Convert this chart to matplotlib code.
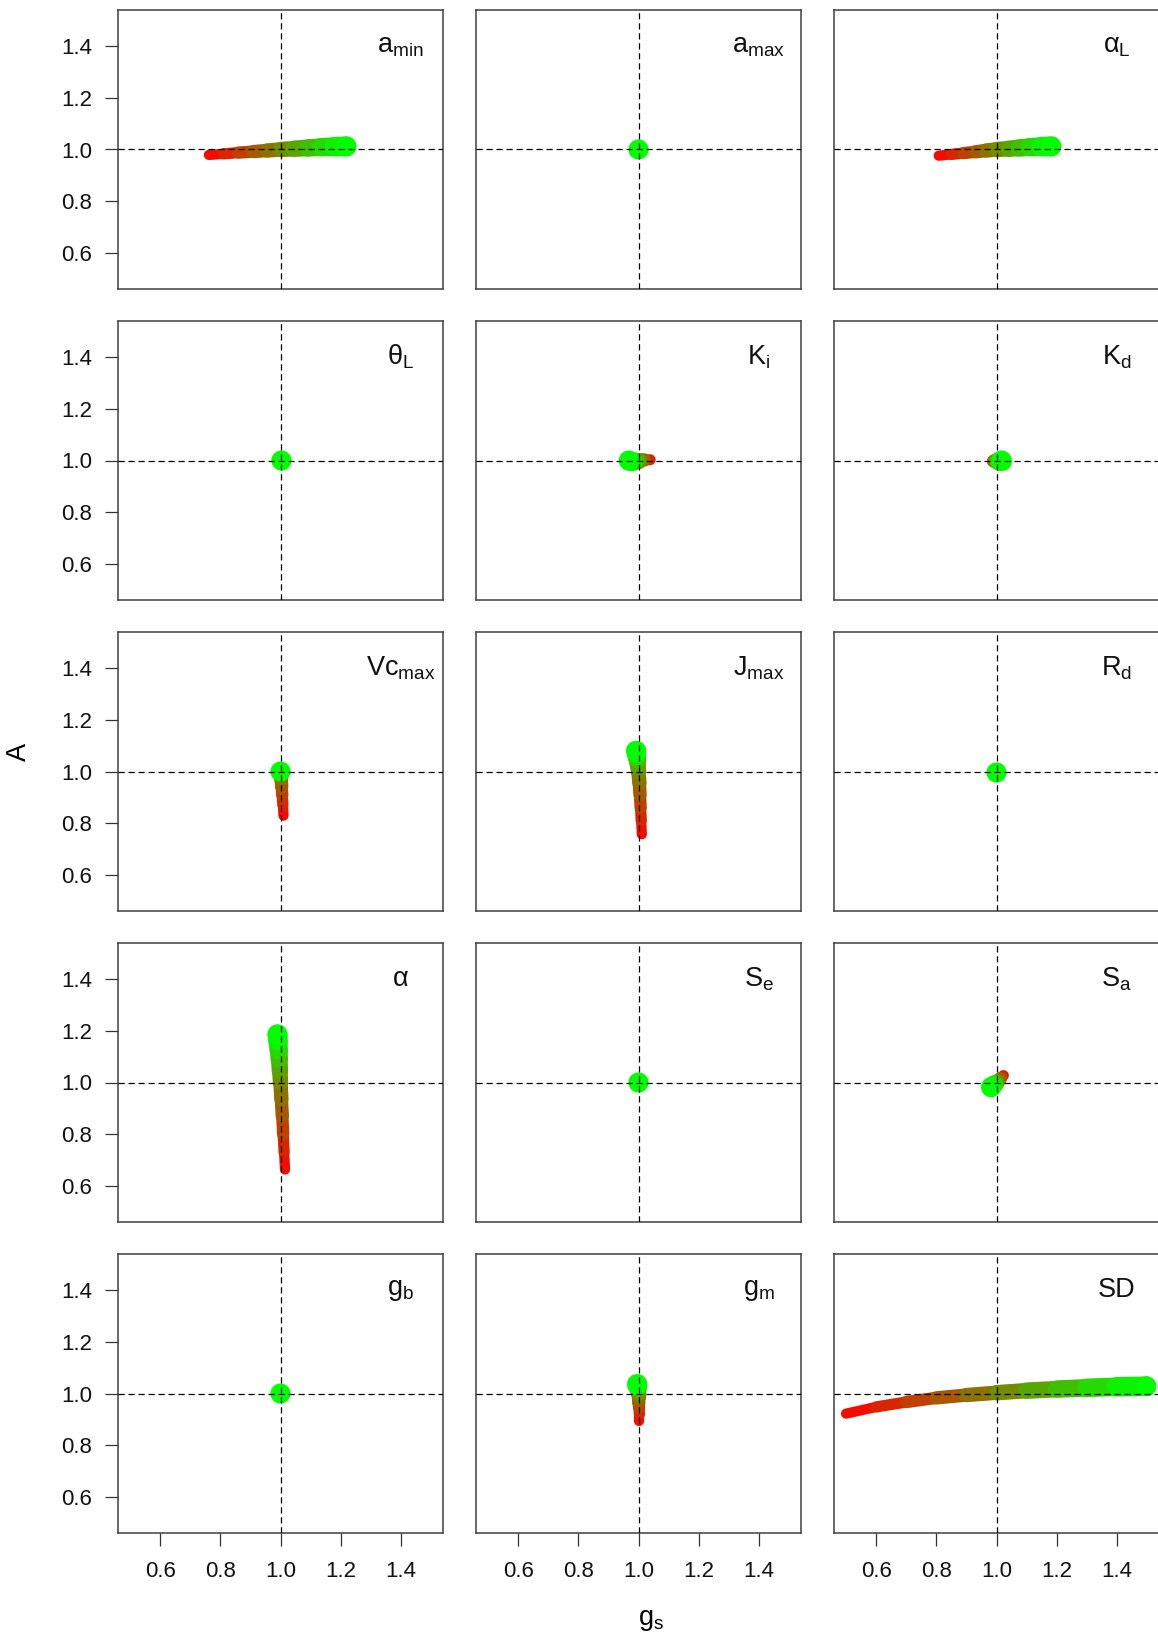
import numpy as np
import matplotlib
matplotlib.use('Agg')
import matplotlib.pyplot as plt
from matplotlib.collections import LineCollection

plt.rcParams['font.family'] = ['Liberation Sans', 'DejaVu Sans']
plt.rcParams['mathtext.fontset'] = 'custom'
plt.rcParams['mathtext.rm'] = 'Liberation Sans'
plt.rcParams['mathtext.it'] = 'Liberation Sans:italic'

# parameter multipliers (red = 0.5, green = 1.5)
steps11 = [0.5, 0.6, 0.7, 0.8, 0.9, 1.0, 1.1, 1.2, 1.3, 1.4, 1.5]
steps5 = [0.5, 0.75, 1.0, 1.25, 1.5]
steps2 = [0.5, 1.5]

# values (gs, A)
gs_amin = [0.762, 0.81, 0.86, 0.91, 0.955, 1.0, 1.045, 1.09, 1.135, 1.18, 1.219]
A_amin = [0.979, 0.983, 0.988, 0.992, 0.996, 1.0, 1.003, 1.006, 1.009, 1.011, 1.012]

gs_amax = [1.0, 1.0]
A_amax = [1.0, 1.0]

gs_alphaL = [0.808, 0.85, 0.89, 0.93, 0.965, 1.0, 1.04, 1.075, 1.11, 1.148, 1.182]
A_alphaL = [0.976, 0.981, 0.986, 0.991, 0.996, 1.0, 1.003, 1.006, 1.009, 1.011, 1.012]

gs_thetaL = [1.003, 1.003]
A_thetaL = [1.0, 1.0]

gs_Ki = [1.039, 1.018, 1.0, 0.983, 0.968]
A_Ki = [1.003, 1.002, 1.0, 1.0, 1.0]

gs_Kd = [0.985, 0.993, 1.0, 1.009, 1.017]
A_Kd = [1.0, 1.0, 1.0, 1.0, 1.0]

gs_Vcmax = [1.010, 1.008, 1.006, 1.004, 1.002, 1.0, 1.0, 1.0, 1.0, 1.0, 1.0]
A_Vcmax = [0.829, 0.870, 0.908, 0.942, 0.973, 1.0, 1.0, 1.0, 1.0, 1.0, 1.0]

gs_Jmax = [1.011, 1.009, 1.007, 1.005, 1.003, 1.0, 0.998, 0.996, 0.994, 0.993, 0.992]
A_Jmax = [0.757, 0.81, 0.86, 0.91, 0.955, 1.0, 1.025, 1.045, 1.06, 1.072, 1.08]

gs_Rd = [1.0, 1.0]
A_Rd = [0.996, 0.996]

gs_alpha = [1.015, 1.012, 1.009, 1.006, 1.003, 1.0, 0.998, 0.996, 0.994, 0.992, 0.99]
A_alpha = [0.663, 0.73, 0.80, 0.87, 0.935, 1.0, 1.045, 1.09, 1.125, 1.16, 1.186]

gs_Se = [1.0, 1.0]
A_Se = [1.0, 1.0]

gs_Sa = [1.023, 1.012, 1.0, 0.991, 0.982]
A_Sa = [1.027, 1.014, 1.0, 0.991, 0.982]

gs_gb = [1.0, 1.0]
A_gb = [1.0, 1.0]

gs_gm = [1.003, 1.003, 1.002, 1.001, 1.0, 1.0, 0.999, 0.998, 0.997, 0.996, 0.996]
A_gm = [0.894, 0.92, 0.945, 0.965, 0.985, 1.0, 1.012, 1.021, 1.028, 1.033, 1.036]

gs_SD = [0.50, 0.60, 0.70, 0.80, 0.90, 1.00, 1.10, 1.20, 1.30, 1.40, 1.498]
A_SD = [0.922, 0.948, 0.967, 0.983, 0.994, 1.003, 1.011, 1.017, 1.022, 1.026, 1.028]

labels = [r'$\mathrm{a}_{\mathrm{min}}$', r'$\mathrm{a}_{\mathrm{max}}$', r'$\mathrm{α}_{\mathrm{L}}$',
          r'$\mathrm{θ}_{\mathrm{L}}$', r'$\mathrm{K}_{\mathrm{i}}$', r'$\mathrm{K}_{\mathrm{d}}$',
          r'$\mathrm{Vc}_{\mathrm{max}}$', r'$\mathrm{J}_{\mathrm{max}}$', r'$\mathrm{R}_{\mathrm{d}}$',
          r'$\mathrm{α}$', r'$\mathrm{S}_{\mathrm{e}}$', r'$\mathrm{S}_{\mathrm{a}}$',
          r'$\mathrm{g}_{\mathrm{b}}$', r'$\mathrm{g}_{\mathrm{m}}$', 'SD']

panels = [
    (steps11, gs_amin, A_amin), (steps2, gs_amax, A_amax), (steps11, gs_alphaL, A_alphaL),
    (steps2, gs_thetaL, A_thetaL), (steps5, gs_Ki, A_Ki), (steps5, gs_Kd, A_Kd),
    (steps11, gs_Vcmax, A_Vcmax), (steps11, gs_Jmax, A_Jmax), (steps2, gs_Rd, A_Rd),
    (steps11, gs_alpha, A_alpha), (steps2, gs_Se, A_Se), (steps5, gs_Sa, A_Sa),
    (steps2, gs_gb, A_gb), (steps11, gs_gm, A_gm), (steps11, gs_SD, A_SD),
]

ticks = [0.6, 0.8, 1.0, 1.2, 1.4]

W, H = 1158, 1639
fig = plt.figure(figsize=(W / 100, H / 100), dpi=100)

for i, (par, gs, A) in enumerate(panels):
    r, c = divmod(i, 3)
    left = (118 + 358 * c) / W
    bottom = 1 - (10 + 311 * r + 279) / H
    ax = fig.add_axes([left, bottom, 325 / W, 279 / H])
    ax.set_xlim(0.46, 1.54)
    ax.set_ylim(0.46, 1.54)

    # gradient stroke red -> green, growing with the parameter
    t = (np.array(par) - 0.5) / 1.0
    pts = np.column_stack([gs, A])
    segs = np.stack([pts[:-1], pts[1:]], axis=1)
    tm = (t[:-1] + t[1:]) / 2
    cols = [(1 - v, v, 0) for v in tm]
    lc = LineCollection(segs, colors=cols, linewidths=7 + 7.5 * tm,
                        capstyle='round', joinstyle='round', zorder=2)
    ax.add_collection(lc)
    ax.scatter([gs[-1]], [A[-1]], s=(7 + 7.5 * t[-1]) ** 2, color=(1 - t[-1], t[-1], 0),
               edgecolors='none', zorder=3)

    ax.axhline(1, color='black', lw=0.9, ls=(0, (5, 3)), zorder=4)
    ax.axvline(1, color='black', lw=0.9, ls=(0, (5, 3)), zorder=4)

    ax.text(1.4, 1.4, labels[i], fontsize=19.5, ha='center', va='center', color='#111111')

    ax.set_xticks(ticks)
    ax.set_yticks(ticks)
    ax.set_xticklabels([f'{v:.1f}' for v in ticks])
    ax.set_yticklabels([f'{v:.1f}' for v in ticks])
    ax.tick_params(direction='out', length=9.5, width=0.9, labelsize=16,
                   color='#333333', labelcolor='#111111')
    ax.tick_params(axis='x', pad=11)
    ax.tick_params(axis='y', pad=9)
    if r != 4:
        ax.tick_params(bottom=False, labelbottom=False)
    if c != 0:
        ax.tick_params(left=False, labelleft=False)
    for s in ax.spines.values():
        s.set_color('#404040')
        s.set_linewidth(1.1)

fig.text(19 / W, 1 - 752 / H, 'A', fontsize=19.5, rotation=90, ha='center', va='center')
fig.text(651 / W, 1 - 1620 / H, r'$\mathrm{g}_{\mathrm{s}}$', fontsize=19.5, ha='center', va='center')

fig.savefig('out.png', dpi=100)
